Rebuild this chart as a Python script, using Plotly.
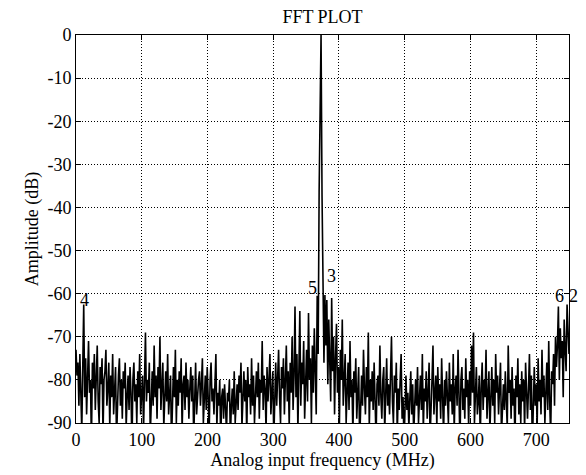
import plotly.graph_objects as go

# Spectrum amplitude (dB), 512 bins spanning 0-750 MHz
amp_seg1 = [
    -73, -79, -76, -86, -74, -81, -92, -77, -62.5, -84, -75, -88, -78, -71, -83, -80, -95, -76, -82, -74,
    -87, -79, -72, -85, -90, -77, -81, -75, -93, -80, -78, -73, -86, -82, -76, -91, -79, -84, -74, -88,
    -81, -77, -94, -83, -79, -75, -86, -80, -89, -78, -82, -76, -91, -84, -79, -87, -77, -83, -96, -80,
    -76, -85, -81, -90, -78, -84, -74, -88, -82, -79, -92, -77, -69, -85, -80, -83, -76, -93, -81, -78,
    -86, -72, -84, -79, -89, -77, -82, -70, -87, -80, -76, -91, -83, -78, -85, -74, -88, -81, -79, -95,
    -82, -77, -84, -73, -90, -80, -86, -78, -83, -75, -92, -81, -79, -87, -76, -84, -80, -89, -82, -77,
    -85, -79, -94, -81, -76, -88, -83, -80,
]
amp_seg2 = [
    -78, -86, -81, -75, -90, -83, -79, -87, -77, -84, -93, -80, -76, -85, -82, -88, -79, -74, -91, -83,
    -86, -80, -95, -84, -82, -89, -81, -87, -92, -83, -85, -80, -94, -86, -82, -88, -78, -90, -84, -81,
    -87, -79, -83, -76, -91, -82, -78, -85, -80, -93, -77, -84, -81, -88, -75, -86, -79, -90, -82, -78,
    -84, -76, -89, -80, -83, -71, -87, -79, -82, -92, -77, -85, -80, -74, -88, -81, -78, -94, -83, -76,
    -86, -79, -73, -84, -90, -77, -82, -75, -88, -80, -72, -85, -78, -91, -76, -83, -70, -87, -79, -63,
    -84, -74, -92, -78, -64, -86, -76, -81, -71, -89, -77, -73, -85, -64.5, -80, -75, -90, -72, -83, -68,
    -78, -88, -60.5, -74, -36.5, -15.5, 0, -37,
]
amp_seg3 = [
    -63, -76, -60.3, -72, -61.5, -81, -66, -74, -85, -61, -78, -70, -88, -75, -67, -83, -77, -91, -73, -80,
    -66, -86, -79, -74, -90, -82, -76, -87, -71, -84, -80, -93, -78, -83, -75, -89, -81, -77, -95, -84,
    -79, -86, -73, -82, -88, -77, -84, -69, -91, -80, -85, -78, -87, -76, -83, -94, -81, -79, -86, -72,
    -84, -89, -80, -77, -92, -83, -75, -86, -81, -88, -78, -70, -85, -90, -79, -83, -76, -93, -82, -87,
    -80, -74, -89, -84, -95, -82, -79, -87, -83, -91, -85, -78, -88, -81, -93, -84, -80, -86, -77, -90,
    -83, -79, -87, -74, -92, -82, -85, -78, -89, -81, -76, -94, -84, -80, -72, -88, -83, -79, -91, -77,
    -85, -81, -89, -75, -84, -93, -80, -86,
]
amp_seg4 = [
    -78, -83, -90, -76, -85, -81, -88, -74, -92, -82, -79, -86, -73, -84, -95, -80, -77, -87, -82, -89,
    -75, -84, -80, -91, -78, -86, -72, -83, -69, -90, -81, -77, -88, -85, -79, -94, -82, -76, -87, -80,
    -84, -73, -89, -81, -78, -92, -85, -77, -86, -80, -90, -74, -83, -79, -88, -82, -76, -93, -84, -81,
    -87, -78, -85, -91, -72, -83, -80, -89, -77, -86, -82, -95, -79, -84, -75, -88, -81, -90, -78, -85,
    -80, -92, -76, -84, -89, -82, -74, -87, -79, -96, -83, -77, -86, -81, -91, -75, -85, -80, -88, -73,
    -84, -79, -90, -82, -76, -87, -71, -85, -93, -78, -81, -74, -86, -70, -77, -72, -63, -80, -68, -75,
    -71, -84, -66, -73, -78, -62.5, -69, -74,
]

f_max = 750  # MHz, last bin
x_tick_vals = [0, 100, 200, 300, 400, 500, 600, 700]
x_tick_text = ["0", "100", "200", "300", "400", "500", "600", "700"]
y_tick_vals = [0, -10, -20, -30, -40, -50, -60, -70, -80, -90]
y_tick_text = ["0", "-10", "-20", "-30", "-40", "-50", "-60", "-70", "-80", "-90"]

harm_labels = ["4", "5", "3", "6", "2"]
harm_x = [12.6, 360, 388.5, 736, 750]
harm_y = [-61.5, -58.8, -56, -60.5, -60.5]
harm_shift = [0, 0, 0, 0, 4]

amp = amp_seg1 + amp_seg2 + amp_seg3 + amp_seg4
n = len(amp)
freq = [k * f_max / (n - 1) for k in range(n)]

FONT = "Liberation Serif"

fig = go.Figure()
fig.add_trace(go.Scatter(x=freq, y=amp, mode="lines",
                         line=dict(color="black", width=1.6), showlegend=False))

for t, hx, hy, sh in zip(harm_labels, harm_x, harm_y, harm_shift):
    fig.add_annotation(x=hx, y=hy, text=t, showarrow=False, xshift=sh,
                       xanchor="center", yanchor="middle",
                       font=dict(family=FONT, size=18, color="black"))

axis_common = dict(
    showgrid=True, gridcolor="black", gridwidth=1, griddash="1px,2px",
    showline=True, linecolor="black", linewidth=1, mirror="ticks",
    ticks="inside", ticklen=5, tickcolor="black", zeroline=False,
    tickfont=dict(family=FONT, size=18, color="black"),
)

fig.update_xaxes(range=[0, 750], tickmode="array", tickvals=x_tick_vals, ticktext=x_tick_text,
                 title=dict(text="Analog input frequency (MHz)", standoff=2,
                            font=dict(family=FONT, size=18, color="black")),
                 **axis_common)
fig.update_yaxes(range=[-90, 0], tickmode="array", tickvals=y_tick_vals, ticktext=y_tick_text,
                 title=dict(text="Amplitude (dB)", standoff=4,
                            font=dict(family=FONT, size=18, color="black")),
                 **axis_common)

fig.update_layout(
    width=586, height=475,
    margin=dict(l=76, r=17, t=35, b=52),
    paper_bgcolor="white", plot_bgcolor="white",
    title=dict(text="FFT PLOT", x=0.5, xref="paper", xanchor="center",
               y=1 - 17 / 475, yanchor="middle",
               font=dict(family=FONT, size=18, color="black")),
)

fig.write_html("out.html")
